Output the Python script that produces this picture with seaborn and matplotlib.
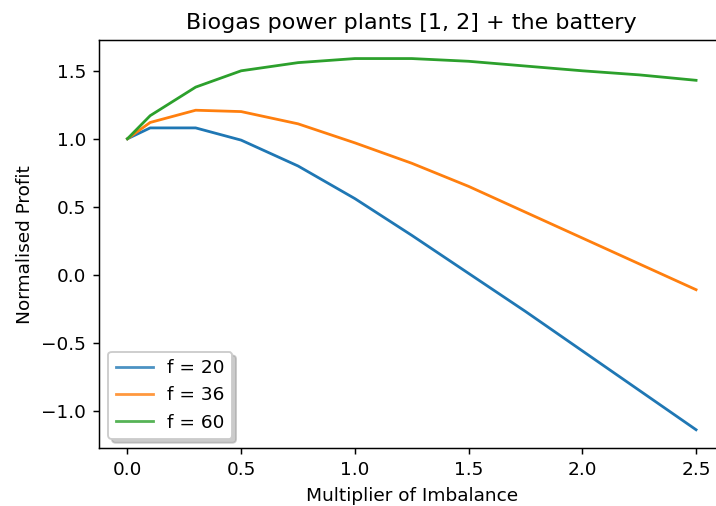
import matplotlib
matplotlib.use("Agg")
import matplotlib.pyplot as plt
import seaborn as sns
import pandas as pd

# Imbalance multipliers evaluated
multiplier = [0.0, 0.1, 0.3, 0.5, 0.75, 1.0, 1.25, 1.5, 1.75, 2.0, 2.25, 2.5]

# Normalised profit for each flexibility level f
profit_f20 = [1.00, 1.08, 1.08, 0.99, 0.80, 0.56, 0.29, 0.01, -0.27, -0.56, -0.85, -1.14]
profit_f36 = [1.00, 1.12, 1.21, 1.20, 1.11, 0.97, 0.82, 0.65, 0.46, 0.27, 0.08, -0.11]
profit_f60 = [1.00, 1.17, 1.38, 1.50, 1.56, 1.59, 1.59, 1.57, 1.535, 1.50, 1.47, 1.43]

series_labels = ["f = 20", "f = 36", "f = 60"]
series_values = [profit_f20, profit_f36, profit_f60]

rows = []
for label, values in zip(series_labels, series_values):
    for x, y in zip(multiplier, values):
        rows.append({"Multiplier of Imbalance": x, "Normalised Profit": y, "series": label})
df = pd.DataFrame(rows)

plt.rcParams["font.family"] = ["DejaVu Sans"]

dpi = 133.2
fig = plt.figure(figsize=(716 / dpi, 506 / dpi), dpi=dpi)
ax = fig.add_axes([99 / 716, (506 - 448.3) / 506, (724.5 - 99) / 716, (448.3 - 40) / 506])

palette = ["#1f77b4", "#ff7f0e", "#2ca02c"]
sns.lineplot(data=df, x="Multiplier of Imbalance", y="Normalised Profit",
             hue="series", palette=palette, linewidth=1.5, ax=ax,
             estimator=None, sort=True)

ax.set_title("Biogas power plants [1, 2] + the battery")
ax.set_xlabel("Multiplier of Imbalance")
ax.set_ylabel("Normalised Profit")
ax.set_xticks([0.0, 0.5, 1.0, 1.5, 2.0, 2.5])
ax.set_yticks([-1.0, -0.5, 0.0, 0.5, 1.0, 1.5])

sns.move_legend(ax, "lower left", title=None,
                shadow={"color": "0.6", "alpha": 0.5})
for handle in ax.get_legend().legend_handles:
    handle.set_alpha(0.8)

fig.savefig("out.png", dpi=dpi)
